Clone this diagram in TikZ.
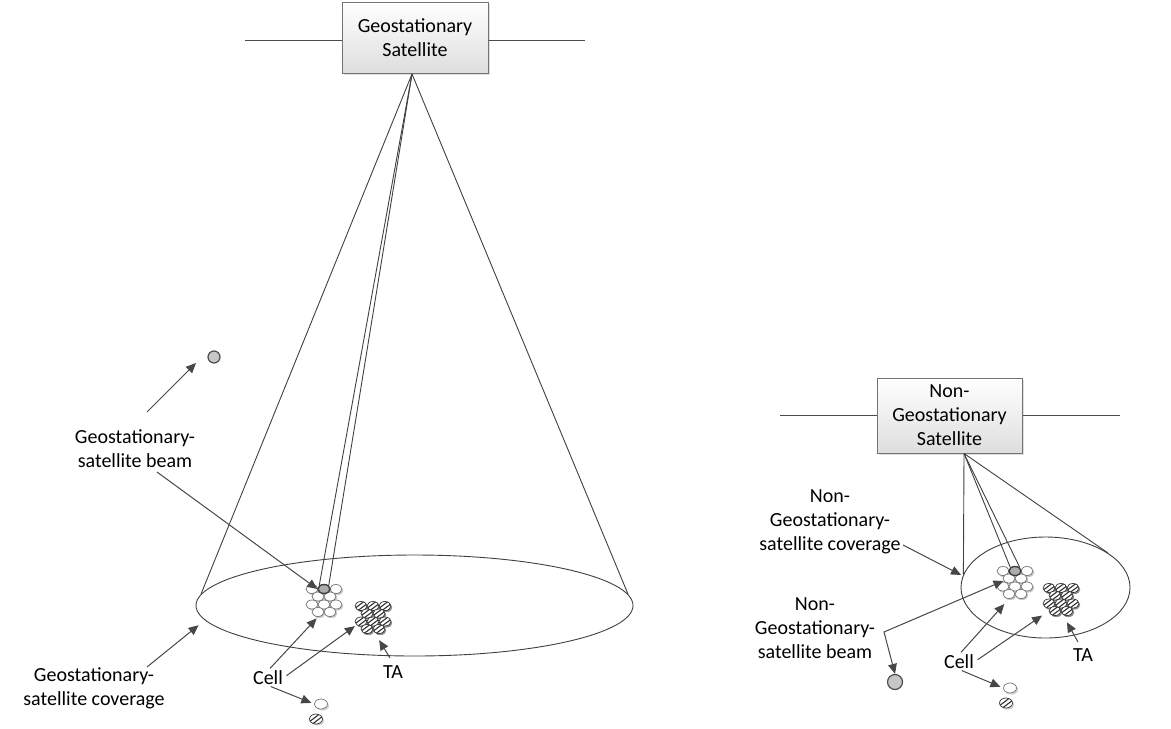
\documentclass[tikz,border=0pt]{standalone}
\usepackage{fontspec}
\setmainfont{Carlito}
\usetikzlibrary{shapes.geometric,arrows.meta,shadows}
\tikzset{
  satelite/.style={
    rectangle, draw=black!55, line width=0.5pt, top color=white,
    bottom color=black!13, align=center, inner sep=0pt,
    font=\fontsize{10}{12}\selectfont,
    drop shadow={shadow xshift=1.2pt, shadow yshift=-1.2pt, opacity=0.25}},
  orbita/.style={draw=black!70, line width=0.5pt},
  cono/.style={draw=black!75, line width=0.45pt},
  cobertura/.style={ellipse, draw=black!75, line width=0.45pt, inner sep=0pt},
  etiq/.style={align=center, font=\fontsize{10}{12}\selectfont, inner sep=0pt},
  flecha/.style={-{Triangle[length=5pt,width=4.4pt]}, draw=black!72,
    line width=0.5pt},
  celda/.style={ellipse, draw=black!55, line width=0.35pt, fill=white,
    minimum width=6pt, minimum height=4.5pt, inner sep=0pt},
  celdata/.style={celda, draw=black!80,
    path picture={
      \draw[line width=0.55pt]
        ([xshift=-1.5pt]path picture bounding box.south west) --
        ([xshift=-1.5pt]path picture bounding box.north east);
      \draw[line width=0.55pt]
        ([xshift=1.5pt]path picture bounding box.south west) --
        ([xshift=1.5pt]path picture bounding box.north east);}},
  haz/.style={celda, fill=black!32, draw=black!75, line width=0.7pt},
  punto/.style={circle, fill=black!22, draw=black!70, line width=0.6pt,
    inner sep=0pt, minimum size=6pt},
  sombrita/.style={drop shadow={shadow xshift=0.8pt, shadow yshift=-0.8pt,
    opacity=0.35}}
}

\begin{document}
\begin{tikzpicture}[x=0.5pt, y=-0.5pt]
\useasboundingbox (0,0) rectangle (1171,728);

\node[satelite, minimum width=73pt, minimum height=35.5pt] (geo) at (415,37.5)
  {Geostationary\\Satellite};
\coordinate (gorbi) at (245,40);
\coordinate (gorbd) at (585,40);
\draw[orbita] (gorbi) -- (gorbi -| geo.west);
\draw[orbita] (geo.east |- gorbd) -- (gorbd);

\node[satelite, minimum width=72.5pt, minimum height=37.5pt] (ngeo) at (949.5,415.5)
  {Non-\\Geostationary\\Satellite};
\coordinate (norbi) at (780,415);
\coordinate (norbd) at (1120,415);
\draw[orbita] (norbi) -- (norbi -| ngeo.west);
\draw[orbita] (ngeo.east |- norbd) -- (norbd);

\coordinate (gapex) at (412,74);
\coordinate (napex) at (964,453.5);
\node[cobertura, minimum width=218.5pt, minimum height=50.5pt] (gcov) at (414.5,605.5) {};
\node[cobertura, minimum width=84.5pt, minimum height=50.5pt] (ncov) at (1045.5,587.5) {};
\draw[cono] (gapex) -- (gcov.177);
\draw[cono] (gapex) -- (gcov.3);
\draw[cono] (napex) -- (ncov.171);
\draw[cono] (napex) -- (ncov.29);

\foreach \ox/\oy/\tipo/\nom/\somb in {312/589/celda/gc/black!22, 361/606/celdata/gt/black!45,
                                      1003/571/celda/nc/black!22, 1049/588/celdata/nt/black!45}{
  \foreach \dx/\dy in {0/0,12/0,24/0,6/7.5,18/7.5,0/15.5,12/15.5,24/15.5,6/23,18/23}
    \node[celda, draw=none, fill=\somb] at ({\ox+\dx+1.3},{\oy+\dy+1.6}) {};
  \foreach \dx/\dy [count=\i] in {0/0,12/0,24/0,6/7.5,18/7.5,0/15.5,12/15.5,24/15.5,6/23,18/23}
    \node[\tipo] (\nom\i) at ({\ox+\dx},{\oy+\dy}) {};
}
\node[haz] (gbeam) at (gc2) {};
\node[haz] (nbeam) at (nc2) {};

\draw[cono] (gapex) -- (gbeam.north west);
\draw[cono] (gapex) -- (gbeam.north east);
\draw[cono] (napex) -- (nbeam.north west);
\draw[cono] (napex) -- (nbeam.north east);

\node[etiq] (ghazlbl) at (135,448.5) {Geostationary-\\satellite beam};
\node[punto] (gpunto) at (214,357) {};
\coordinate (ghazt) at (147,412);
\coordinate (ghazb) at (157,472);
\draw[flecha] (ghazt) -- ([shift={(-9pt,-3pt)}]gpunto.center);
\draw[flecha] (ghazb) -- (gbeam.west);

\node[etiq] (gcovlbl) at (94,688.5) {Geostationary-\\satellite coverage};
\coordinate (gcovt) at (147,667);
\draw[flecha, shorten >=4pt] (gcovt) -- (gcov.184);

\node[etiq] (gcel) at (268,678) {Cell};
\node[celda, minimum width=6.5pt, minimum height=5pt, sombrita] (gleycel) at (321,704) {};
\node[celdata, minimum width=6.5pt, minimum height=5pt, sombrita] (gleyta) at (316,719) {};
\draw[flecha, shorten <=1.5pt, shorten >=1pt] (gcel.north) -- (gc9.south);
\draw[flecha, shorten <=2pt, shorten >=1pt] (gcel.east) -- (gt6.south west);
\draw[flecha, shorten <=1.5pt, shorten >=1.5pt] (gcel.south) -- (gleycel.west);

\node[etiq] (gta) at (393,672) {TA};
\coordinate (gtat) at (390,658);
\draw[flecha, shorten >=4.5pt] (gtat) -- (gt10.south west);

\node[etiq] (ncovlbl) at (830,522) {Non-\\Geostationary-\\satellite coverage};
\coordinate (ncovt) at (903,545);
\draw[flecha, shorten >=1pt] (ncovt) -- (ncov.172);

\node[etiq] (nhazlbl) at (815,628) {Non-\\Geostationary-\\satellite beam};
\node[punto, minimum size=7.5pt] (npunto) at (895,682) {};
\coordinate (nquiebre) at (884,632);
\draw[flecha, {Triangle[length=5pt,width=4.4pt]}-{Triangle[length=5pt,width=4.4pt]}]
  (nc4) -- (nquiebre) -- (npunto.north);

\node[etiq] (ncel) at (959,662) {Cell};
\node[celda, minimum width=6.5pt, minimum height=5pt, sombrita] (nleycel) at (1010,688) {};
\node[celdata, minimum width=6.5pt, minimum height=5pt, sombrita] (nleyta) at (1006,703) {};
\draw[flecha, shorten <=1.5pt, shorten >=3.5pt] (ncel.north) -- (nc9.south);
\draw[flecha, shorten <=2pt, shorten >=4pt] (ncel.east) -- (nt9.west);
\draw[flecha, shorten <=1.5pt, shorten >=1.5pt] (ncel.south) -- (nleycel.west);

\node[etiq] (nta) at (1083,655) {TA};
\coordinate (ntat) at (1078,642);
\draw[flecha, shorten >=4.5pt] (ntat) -- (nt10.south west);

\end{tikzpicture}
\end{document}
